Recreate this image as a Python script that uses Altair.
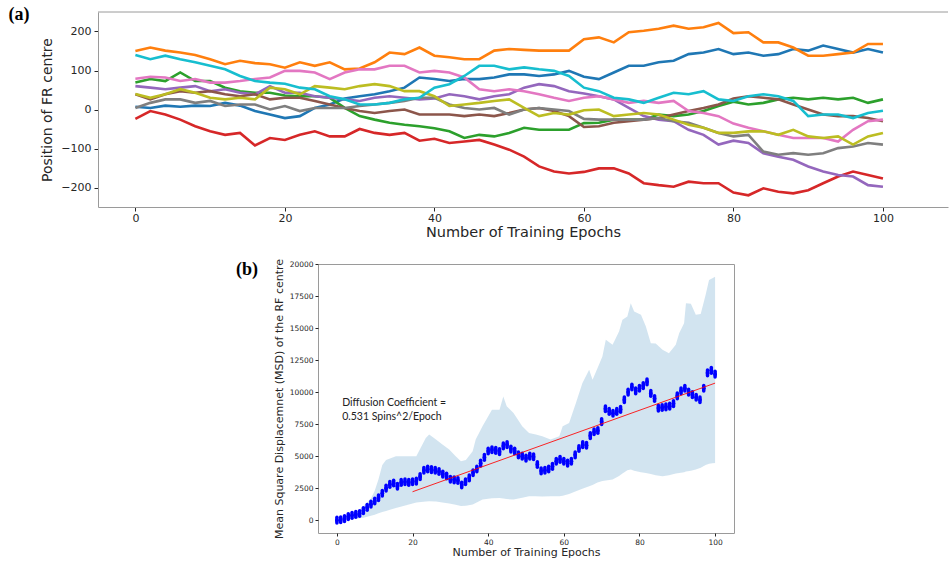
import altair as alt
import pandas as pd

# ---------------- panel (a): positions of 10 receptive-field centres ----------------
epochs = list(range(0, 101, 2))
run_names = ["r0", "r1", "r2", "r3", "r4", "r5", "r6", "r7", "r8", "r9"]
run_colors = ["#1f77b4", "#ff7f0e", "#2ca02c", "#d62728", "#9467bd",
              "#8c564b", "#e377c2", "#7f7f7f", "#bcbd22", "#17becf"]

blue = [7, 4, 10, 7, 10, 9, 17, 10, -4, -13, -22, -17, 4, 13, 28, 34, 39, 47, 56, 82,
        78, 73, 78, 78, 82, 90, 90, 86, 90, 99, 84, 78, 95, 112, 112, 121, 125, 142, 146, 155,
        142, 146, 138, 142, 155, 151, 164, 155, 146, 155, 146]
orange = [150, 159, 151, 146, 140, 129, 116, 125, 119, 116, 107, 121, 112, 121, 103, 105, 121, 146, 142, 159,
          138, 134, 129, 129, 151, 155, 153, 151, 151, 151, 180, 185, 172, 198, 202, 207, 215, 207, 211, 222,
          196, 198, 172, 172, 159, 138, 138, 142, 146, 168, 168]
green = [69, 78, 73, 95, 73, 73, 56, 47, 43, 43, 36, 34, 34, 30, 4, -17, -26, -34, -39, -43,
         -48, -56, -73, -65, -69, -60, -47, -52, -52, -52, -35, -34, -26, -26, -26, -13, -17, -13, -4, 9,
         20, 13, 17, 26, 30, 26, 30, 26, 30, 17, 26]
red = [-24, -4, -13, -26, -43, -56, -65, -60, -92, -73, -78, -65, -56, -69, -69, -50, -60, -65, -60, -80,
       -75, -86, -82, -78, -90, -103, -121, -146, -159, -164, -160, -151, -151, -164, -189, -194, -198, -185, -189, -189,
       -213, -220, -202, -211, -215, -207, -189, -172, -159, -168, -177]
purple = [60, 56, 52, 56, 60, 47, 52, 43, 39, 60, 43, 43, 34, 30, 26, 22, 30, 34, 30, 26,
          28, 39, 34, 26, 34, 39, 56, 65, 60, 47, 41, 34, 26, 4, -17, -26, -30, -52, -65, -90,
          -80, -86, -112, -121, -129, -146, -159, -168, -172, -194, -198]
brown = [39, 26, 39, 47, 43, 47, 39, 34, 39, 26, 30, 30, 22, 13, 4, -4, -9, -4, 0, -13,
         -13, -13, -17, -13, -17, -9, 0, 4, -4, -17, -45, -43, -34, -30, -26, -22, -13, -4, 4, 13,
         28, 34, 30, 26, 13, 0, -13, -17, -17, -22, -30]
pink = [79, 84, 82, 73, 78, 69, 69, 73, 78, 82, 99, 99, 95, 78, 95, 103, 103, 112, 112, 95,
        99, 95, 82, 52, 47, 52, 47, 39, 30, 22, 30, 34, 26, 17, 22, 17, 22, -4, -9, -17,
        -36, -47, -56, -65, -73, -73, -73, -82, -52, -30, -26]
gray = [4, 17, 26, 26, 17, 22, 9, 13, 13, 0, 9, -4, 4, 4, 4, 9, 13, 17, 22, 30,
        30, 13, 4, 0, 4, -13, 0, 4, 0, -4, -24, -26, -26, -26, -26, -22, -30, -34, -47, -60,
        -69, -65, -108, -116, -112, -116, -112, -99, -95, -86, -90]
olive = [40, 30, 39, 52, 43, 30, 26, 30, 26, 56, 52, 39, 60, 56, 52, 60, 65, 60, 47, 47,
         34, 9, 13, 17, 22, 26, 4, -17, -9, -13, -2, 0, -17, -13, -9, -13, -26, -39, -47, -60,
         -60, -56, -56, -65, -52, -69, -73, -69, -90, -69, -60]
cyan = [140, 129, 138, 129, 121, 112, 103, 86, 73, 69, 66, 56, 52, 34, 26, 13, 13, 17, 26, 30,
        56, 65, 86, 112, 112, 103, 108, 103, 99, 86, 56, 47, 30, 26, 17, 30, 43, 39, 47, 26,
        22, 34, 39, 34, 22, -17, -13, -13, -22, -9, -3]

series_a = [blue, orange, green, red, purple, brown, pink, gray, olive, cyan]

# ---------------- panel (b): mean square displacement ----------------
msd_epoch = list(range(0, 101))
msd_value = [0, 30, 120, 280, 380, 450, 520, 750, 1000, 1250,
             1500, 1750, 2100, 2500, 2800, 2900, 2650, 2950, 3000, 2950,
             3000, 3050, 3400, 3900, 4000, 3950, 3900, 3800, 3600, 3450,
             3200, 3150, 3100, 2750, 3000, 3300, 3700, 4000, 4450, 4900,
             5400, 5500, 5450, 5350, 5800, 5900, 5550, 5400, 5100, 5000,
             4850, 5000, 4950, 4350, 3850, 3900, 4000, 4200, 4600, 4750,
             4600, 4450, 4600, 5100, 5600, 5900, 5850, 6600, 6900, 7000,
             7700, 8700, 8500, 8350, 8500, 8650, 9400, 10000, 10400, 10100,
             10300, 10500, 10800, 9900, 9500, 8750, 8800, 8850, 8900, 9100,
             9700, 10100, 10300, 10000, 9800, 9600, 9400, 10300, 11500, 11700,
             11400]

band_epoch = [0, 3, 5, 7, 9, 10, 11, 12, 13, 15.6, 21, 23.5, 24.4, 26.2, 27.9, 29.7, 31.4, 32.8,
              34.1, 35.9, 36.7, 38.5, 41, 43, 44, 44.9, 46.7, 49, 50.8, 52.6, 54.3, 56.5, 58.8,
              59.7, 61.4, 63.2, 64.9, 66.7, 67.6, 68.9, 70.2, 71.1, 72.9, 74.6, 75.5, 76.8, 77.7,
              78.6, 80.4, 81.7, 83, 84.3, 86.1, 87.8, 89.6, 90.5, 91.8, 92.3, 93.6, 94.9, 96.2,
              97.5, 98.4, 99.3, 100]
band_upper = [0, 300, 600, 1100, 1700, 2300, 3200, 4300, 4700, 4990, 5000, 6420, 6680, 6290, 5900,
              5510, 4990, 4600, 4700, 5380, 6290, 7330, 8630, 8630, 9660, 8890, 8370, 7330, 6810,
              6680, 6550, 6290, 6550, 7330, 7590, 9150, 10700, 11740, 10960, 11870, 12780, 14080,
              13690, 14730, 15640, 15900, 16940, 16290, 16030, 15120, 13820, 13800, 13300, 13040,
              13690, 14600, 15380, 16940, 16900, 16030, 16100, 17590, 18750, 18890, 19000]
band_lower = [0, 60, 120, 200, 350, 430, 550, 630, 720, 960, 1380, 1450, 1480, 1450, 1380, 1300,
              1200, 1100, 1120, 1220, 1350, 1610, 1720, 1740, 1700, 1650, 1610, 1750, 1870, 1870,
              1850, 1870, 1870, 1900, 2050, 2250, 2450, 2650, 2750, 2950, 3050, 3100, 3170, 3450,
              3650, 3900, 3950, 3850, 3750, 3690, 3600, 3500, 3430, 3500, 3650, 3690, 3750, 3800,
              3850, 3950, 4100, 4300, 4400, 4450, 4470]

fit_epoch = [20, 100]
fit_value = [2220, 10700]

msd_ticks = [0, 2500, 5000, 7500, 10000, 12500, 15000, 17500, 20000]

annotation = ["Diffusion Coefficient =", "0.531 Spins^2/Epoch"]

# ---------------- build tables ----------------
rows = []
for name, vals in zip(run_names, series_a):
    for e, v in zip(epochs, vals):
        rows.append({"run": name, "epoch": e, "pos": v})
df_a = pd.DataFrame(rows)
df_msd = pd.DataFrame({"epoch": msd_epoch, "msd": msd_value})
df_band = pd.DataFrame({"epoch": band_epoch, "lo": band_lower, "hi": band_upper})
df_fit = pd.DataFrame({"epoch": fit_epoch, "msd": fit_value})
one = pd.DataFrame({"k": [0]})

FONT = "DejaVu Sans"
TXT = "#262626"
FRAME = "#9a9a9a"

# ---------------- panel (a) ----------------
WA, HA = 850, 195
xa = alt.X("epoch:Q", scale=alt.Scale(domain=[-5, 108.7], nice=False, zero=False),
           axis=alt.Axis(values=[0, 20, 40, 60, 80, 100], title="Number of Training Epochs",
                         grid=False, labelFontSize=11, titleFontSize=14.5, labelFont=FONT,
                         titleFont=FONT, titleFontWeight="normal", labelColor=TXT, titleColor=TXT,
                         domainColor=FRAME, tickColor=TXT, tickSize=4, labelPadding=1, titlePadding=2))
ya = alt.Y("pos:Q", scale=alt.Scale(domain=[-250, 250], nice=False, zero=False),
           axis=alt.Axis(values=[-200, -100, 0, 100, 200], title="Position of FR centre",
                         grid=False, labelFontSize=11, titleFontSize=14, labelFont=FONT,
                         titleFont=FONT, titleFontWeight="normal", labelColor=TXT, titleColor=TXT,
                         domainColor=FRAME, tickColor=TXT, tickSize=4, labelPadding=3, titlePadding=6))

lines = alt.Chart(df_a).mark_line(strokeWidth=2.6, clip=True).encode(
    x=xa, y=ya,
    color=alt.Color("run:N", scale=alt.Scale(domain=run_names, range=run_colors), legend=None),
)
top_rule_a = alt.Chart(one).mark_rule(color=FRAME, strokeWidth=1).encode(
    x=alt.value(0), x2=alt.value(WA), y=alt.value(0))
label_a = alt.Chart(one).mark_text(text="(a)", font="Liberation Serif", fontWeight="bold",
                                   fontSize=18, color="black", align="center",
                                   baseline="middle").encode(x=alt.value(-79), y=alt.value(3))

panel_a = alt.layer(lines, top_rule_a, label_a).properties(width=WA, height=HA)

# ---------------- panel (b) ----------------
WB, HB = 416, 269
xb_scale = alt.Scale(domain=[-5, 105], nice=False, zero=False)
yb_scale = alt.Scale(domain=[-1000, 20000], nice=False, zero=False)
xb_axis = alt.Axis(values=[0, 20, 40, 60, 80, 100], title="Number of Training Epochs", grid=False,
                   labelFontSize=7.5, titleFontSize=11, labelFont=FONT, titleFont=FONT,
                   titleFontWeight="normal", labelColor=TXT, titleColor=TXT, domain=False,
                   tickColor=TXT, tickSize=3, labelPadding=2, titlePadding=1)
yb_axis = alt.Axis(values=msd_ticks, tickCount=len(msd_ticks), format="d", labelOverlap=False,
                   labelSeparation=0, labelBound=False,
                   title="Mean Square Displacemnet (MSD) of the RF centre", grid=False,
                   labelFontSize=7.5, titleFontSize=11, labelFont=FONT, titleFont=FONT,
                   titleFontWeight="normal", labelColor=TXT, titleColor=TXT, domain=False,
                   tickColor=TXT, tickSize=3, labelPadding=2, titlePadding=5)

XB = alt.X("epoch:Q", scale=xb_scale, axis=xb_axis)

band = alt.Chart(df_band).mark_area(color="#1f77b4", opacity=0.2).encode(
    x=XB,
    y=alt.Y("lo:Q", scale=yb_scale, axis=yb_axis),
    y2="hi:Q",
)
bars = alt.Chart(df_msd).transform_calculate(
    lo="datum.msd - 220", hi="datum.msd + 220"
).mark_rule(color="#0000ff", strokeWidth=3.5, strokeCap="round").encode(
    x=XB, y=alt.Y("lo:Q", scale=yb_scale, axis=yb_axis), y2="hi:Q")
dots = alt.Chart(df_msd).mark_circle(color="#0000ff", size=14, opacity=1).encode(
    x=XB, y=alt.Y("msd:Q", scale=yb_scale, axis=yb_axis))
fit = alt.Chart(df_fit).mark_line(color="#ff0000", strokeWidth=1, opacity=0.85).encode(
    x=XB, y=alt.Y("msd:Q", scale=yb_scale, axis=yb_axis))
note = alt.Chart(one).mark_text(text=annotation, font="Lato", fontSize=10.5, color="#222222",
                                align="left", baseline="middle", lineHeight=14).encode(
    x=alt.datum(1.4), y=alt.datum(9150))
label_b = alt.Chart(one).mark_text(text="(b)", font="Liberation Serif", fontWeight="bold",
                                   fontSize=18, color="black", align="center",
                                   baseline="middle").encode(x=alt.value(-71), y=alt.value(6))

panel_b = alt.layer(band, bars, dots, fit, note, label_b).properties(
    width=WB, height=HB, view=alt.ViewBackground(stroke=FRAME, strokeWidth=1))

spacer = alt.Chart(one).mark_point(opacity=0).encode(
    x=alt.value(0), y=alt.value(0)).properties(width=137, height=10)

row_b = alt.hconcat(spacer, panel_b, spacing=0)

chart = alt.vconcat(panel_a, row_b, spacing=18).properties(
    padding={"left": 8, "top": 6, "right": 0, "bottom": 0}
).configure_view(stroke=None).configure_axis(labelOverlap=False)

chart.save("out.html", embed_options={"renderer": "svg", "actions": False})
